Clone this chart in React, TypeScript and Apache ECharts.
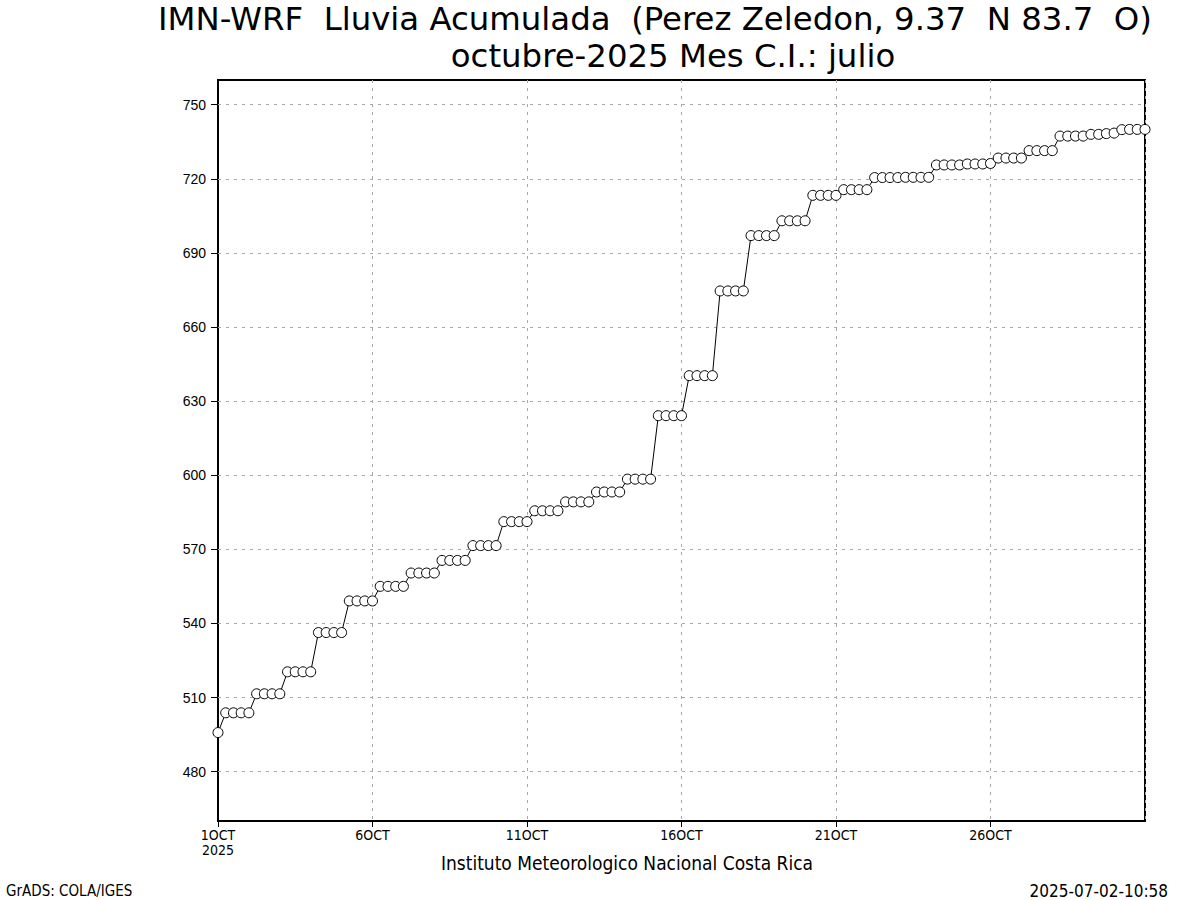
import React, { useEffect, useRef } from "react";
import * as echarts from "echarts";

// Accumulated rain (mm), every 6 hours from 1 Oct 00Z to 31 Oct 00Z
const rain = [
  495.8,
  503.8, 503.8, 503.8, 503.8,
  511.5, 511.5, 511.5, 511.5,
  520.4, 520.4, 520.4, 520.4,
  536.3, 536.3, 536.3, 536.3,
  549.1, 549.1, 549.1, 549.1,
  555.0, 555.0, 555.0, 555.0,
  560.4, 560.4, 560.4, 560.4,
  565.5, 565.5, 565.5, 565.5,
  571.5, 571.5, 571.5, 571.5,
  581.2, 581.2, 581.2, 581.2,
  585.6, 585.6, 585.6, 585.6,
  589.2, 589.2, 589.2, 589.2,
  593.2, 593.2, 593.2, 593.2,
  598.4, 598.4, 598.4, 598.4,
  624.1, 624.1, 624.1, 624.1,
  640.3, 640.3, 640.3, 640.3,
  674.6, 674.6, 674.6, 674.6,
  697.0, 697.0, 697.0, 697.0,
  703.0, 703.0, 703.0, 703.0,
  713.3, 713.3, 713.3, 713.3,
  715.6, 715.6, 715.6, 715.6,
  720.5, 720.5, 720.5, 720.5,
  720.6, 720.6, 720.6, 720.6,
  725.6, 725.6, 725.6, 725.6,
  726.0, 726.0, 726.0, 726.2,
  728.4, 728.4, 728.4, 728.4,
  731.4, 731.4, 731.4, 731.4,
  737.3, 737.3, 737.3, 737.3,
  738.0, 738.0, 738.3, 738.5,
  739.9, 740.0, 740.0, 740.0,
];

const stepHours = 6;
const xTickHours = [0, 120, 240, 360, 480, 600];
const xTickLabels = ["1OCT\n2025", "6OCT", "11OCT", "16OCT", "21OCT", "26OCT"];
const yTicks = [480, 510, 540, 570, 600, 630, 660, 690, 720, 750];
const yMin = 460;
const yMax = 760;

const titleLine1 = "IMN-WRF  Lluvia Acumulada  (Perez Zeledon, 9.37  N 83.7  O)";
const titleLine2 = "octubre-2025 Mes C.I.: julio";
const footerCenter = "Instituto Meteorologico Nacional Costa Rica";
const footerLeft = "GrADS: COLA/IGES";
const footerRight = "2025-07-02-10:58";

const NARROW = '"Liberation Sans Narrow", "DejaVu Sans Condensed", "Liberation Sans", sans-serif';
const SANS = '"Liberation Sans", "DejaVu Sans", sans-serif';

export default function App() {
  const ref = useRef<HTMLDivElement>(null);
  useEffect(() => {
    if (!ref.current) return;
    const chart = echarts.init(ref.current, undefined, { renderer: "svg" });
    const dashed = { color: "#a8a8a8", type: [3, 5] as any, width: 1 };
    chart.setOption({
      animation: false,
      backgroundColor: "#fff",
      grid: {
        left: 218,
        top: 80,
        width: 927,
        height: 741,
        show: true,
        borderColor: "#000",
        borderWidth: 2,
        backgroundColor: "transparent",
      },
      xAxis: {
        type: "value",
        min: 0,
        max: 720,
        interval: 120,
        axisLine: { show: true, lineStyle: { color: "#000", width: 2 } },
        axisTick: { show: true, length: 6, lineStyle: { color: "#000", width: 1 } },
        axisLabel: {
          showMaxLabel: false,
          color: "#000",
          fontFamily: NARROW,
          fontSize: 14,
          lineHeight: 15,
          margin: 6,
          formatter: (v: number) => {
            const i = xTickHours.indexOf(v);
            return i >= 0 ? xTickLabels[i] : "";
          },
        },
        splitLine: { show: true, lineStyle: dashed },
      },
      yAxis: {
        type: "value",
        min: yMin,
        max: yMax,
        axisLine: { show: true, lineStyle: { color: "#000", width: 2 } },
        axisTick: { show: true, length: 7, customValues: yTicks, lineStyle: { color: "#000", width: 1 } },
        axisLabel: {
          customValues: yTicks,
          color: "#000",
          fontFamily: SANS,
          fontSize: 14,
          margin: 12,
        },
        splitLine: { show: false },
      },
      series: [
        {
          type: "line",
          data: rain.map((v, i) => [i * stepHours, v]),
          symbol: "circle",
          symbolSize: 10,
          showAllSymbol: true,
          itemStyle: { color: "#fff", borderColor: "#000", borderWidth: 1 },
          lineStyle: { color: "#000", width: 1 },
          clip: false,
          z: 5,
          markLine: {
            silent: true,
            symbol: "none",
            label: { show: false },
            lineStyle: dashed,
            emphasis: { disabled: true },
            data: yTicks.map((t) => ({ yAxis: t })),
            z: 1,
          },
        },
      ],
      graphic: [
        {
          type: "text",
          x: 655,
          y: 19,
          scaleX: 1.125,
          style: {
            text: titleLine1,
            font: `32px ${NARROW}`,
            fill: "#000",
            textAlign: "center",
            textVerticalAlign: "middle",
          },
        },
        {
          type: "text",
          x: 673,
          y: 55.5,
          scaleX: 1.125,
          style: {
            text: titleLine2,
            font: `32px ${NARROW}`,
            fill: "#000",
            textAlign: "center",
            textVerticalAlign: "middle",
          },
        },
        {
          type: "text",
          x: 627,
          y: 863,
          style: {
            text: footerCenter,
            font: `19px ${NARROW}`,
            fill: "#000",
            textAlign: "center",
            textVerticalAlign: "middle",
          },
        },
        {
          type: "text",
          x: 6,
          y: 891,
          style: {
            text: footerLeft,
            font: `15px ${NARROW}`,
            fill: "#000",
            textAlign: "left",
            textVerticalAlign: "middle",
          },
        },
        {
          type: "text",
          x: 1168,
          y: 891,
          style: {
            text: footerRight,
            font: `17px ${NARROW}`,
            fill: "#000",
            textAlign: "right",
            textVerticalAlign: "middle",
          },
        },
      ],
    });
    return () => chart.dispose();
  }, []);
  return (
    <div
      ref={ref}
      style={{ position: "fixed", left: 0, top: 0, width: 1200, height: 900, background: "#fff" }}
    />
  );
}
